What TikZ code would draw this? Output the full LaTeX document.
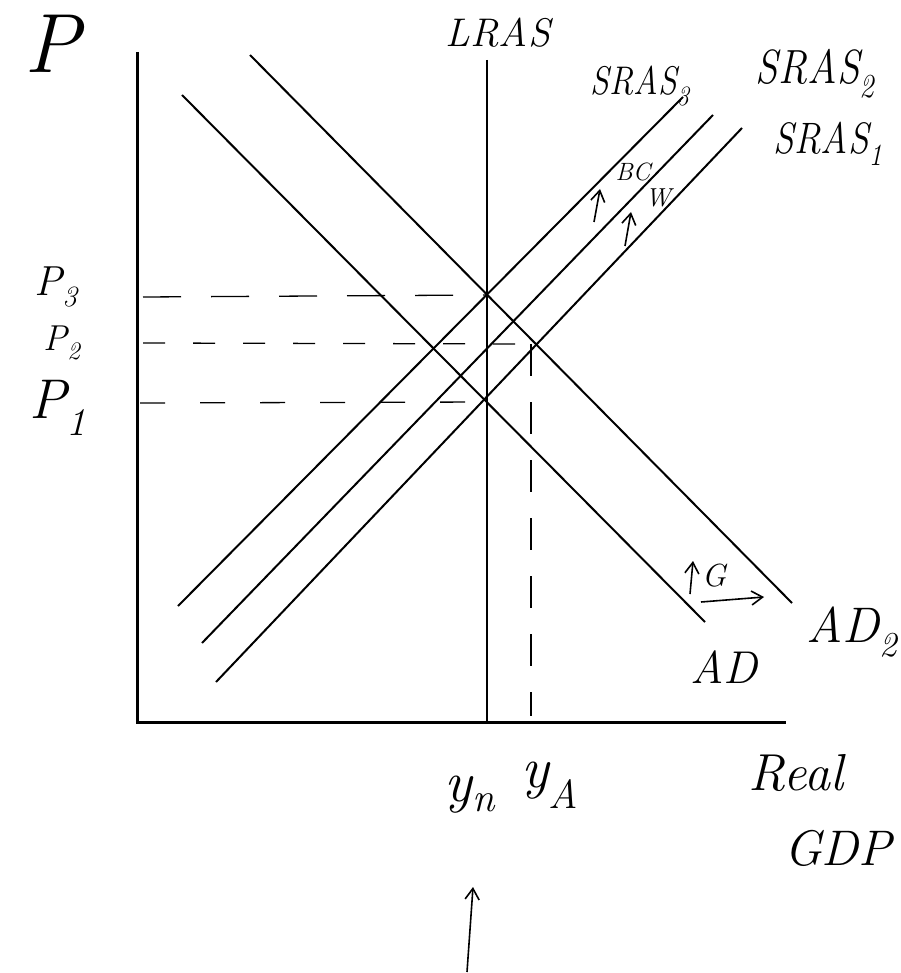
\documentclass[tikz,border=0pt]{standalone}
\usepackage{fontspec}
\usetikzlibrary{arrows.meta}
\newcommand{\fsz}[1]{\fontsize{#1}{#1}\selectfont}
\begin{document}
\begin{tikzpicture}[x=1pt,y=-1pt,
  axisline/.style={line width=3pt},
  curveline/.style={line width=2pt},
  guide/.style={line width=1.3pt, dash pattern=on 38pt off 30pt},
  hand/.style={font=\itshape, inner sep=0pt},
  harrow/.style={line width=1.6pt, -{Straight Barb[length=11pt,width=14pt]}}]
\useasboundingbox (0,0) rectangle (900,973);
% axes
\coordinate (Ytop) at (137,52);
\coordinate (O) at (137,722);
\coordinate (Xend) at (786,722);
\draw[axisline] (Ytop) -- (O) -- (Xend);
% LRAS
\coordinate (LRtop) at (487,60);
\coordinate (LRbot) at (487,722);
\draw[curveline, line width=2.6pt] (LRtop) -- (LRbot);
% AD and AD2
\coordinate (ADa) at (182,95);
\coordinate (ADb) at (705,622);
\coordinate (ADtwoa) at (250,55);
\coordinate (ADtwob) at (792,603);
\draw[curveline] (ADa) -- (ADb);
\draw[curveline] (ADtwoa) -- (ADtwob);
% SRAS lines
\coordinate (Sthreea) at (178,606);
\coordinate (Sthreeb) at (683,97);
\coordinate (Stwoa) at (202,643);
\coordinate (Stwob) at (713,115);
\coordinate (Sonea) at (216,682);
\coordinate (Soneb) at (742,128);
\draw[curveline] (Sthreea) -- (Sthreeb);
\draw[curveline] (Stwoa) -- (Stwob);
\draw[curveline] (Sonea) -- (Soneb);
% equilibria and guides
\coordinate (Ethree) at (487,295);
\coordinate (Etwo) at (531,344);
\coordinate (Eone) at (487,402);
\coordinate (Pthreeax) at (143,297);
\coordinate (Ptwoax) at (143,343);
\coordinate (Poneax) at (140,403);
\coordinate (YAax) at (531,716);
\draw[guide] (Pthreeax) -- (Ethree);
\draw[guide, dash pattern=on 22pt off 28pt] (Ptwoax) -- (Etwo);
\draw[guide, dash pattern=on 25pt off 35pt] (Poneax) -- (Eone);
\draw[guide, dash pattern=on 32pt off 26pt] (Etwo) -- (YAax);
% labels
\node[hand] (Plab) at (52,44) {\fsz{84}P};
\node[hand] (LRASlab) at (498,33) {\fsz{40}LRAS};
\node[hand, xscale=0.85] (Sthreelab) at (640,86) {\fsz{40}SRAS\textsubscript{3}};
\node[hand, xscale=0.85] (Stwolab) at (815,74) {\fsz{48}SRAS\textsubscript{2}};
\node[hand, xscale=0.85] (Sonelab) at (828,144) {\fsz{44}SRAS\textsubscript{1}};
\node[hand] (BClab) at (633,172) {\fsz{25}BC};
\node[hand] (Wlab) at (658,198) {\fsz{26}W};
\coordinate (BCarrowa) at (594,222);
\coordinate (BCarrowb) at (600,189);
\draw[harrow] (BCarrowa) -- (BCarrowb);
\coordinate (Warrowa) at (625,246);
\coordinate (Warrowb) at (631,212);
\draw[harrow] (Warrowa) -- (Warrowb);
\node[hand] (Pthreelab) at (56,287) {\fsz{42}P\textsubscript{3}};
\node[hand] (Ptwolab) at (62,343) {\fsz{36}P\textsubscript{2}};
\node[hand] (Ponelab) at (58,408) {\fsz{56}P\textsubscript{1}};
\node[hand] (Glab) at (714,576) {\fsz{32}G};
\coordinate (Garrowa) at (690,594);
\coordinate (Garrowb) at (693,561);
\draw[harrow] (Garrowa) -- (Garrowb);
\coordinate (Gshifta) at (701,602);
\coordinate (Gshiftb) at (764,597);
\draw[harrow] (Gshifta) -- (Gshiftb);
\node[hand] (ADtwolab) at (852,632) {\fsz{50}AD\textsubscript{2}};
\node[hand] (ADlab) at (724,667) {\fsz{46}AD};
\node[hand] (Ynlab) at (470,795) {\fsz{58}y\textsubscript{n}};
\node[hand] (YAlab) at (550,785) {\fsz{58}y\textsubscript{A}};
\node[hand] (Reallab) at (796,773) {\fsz{52}Real};
\node[hand] (GDPlab) at (838,848) {\fsz{50}GDP};
\coordinate (Barrowa) at (467,972);
\coordinate (Barrowb) at (473,887);
\draw[harrow] (Barrowa) -- (Barrowb);
\end{tikzpicture}
\end{document}
